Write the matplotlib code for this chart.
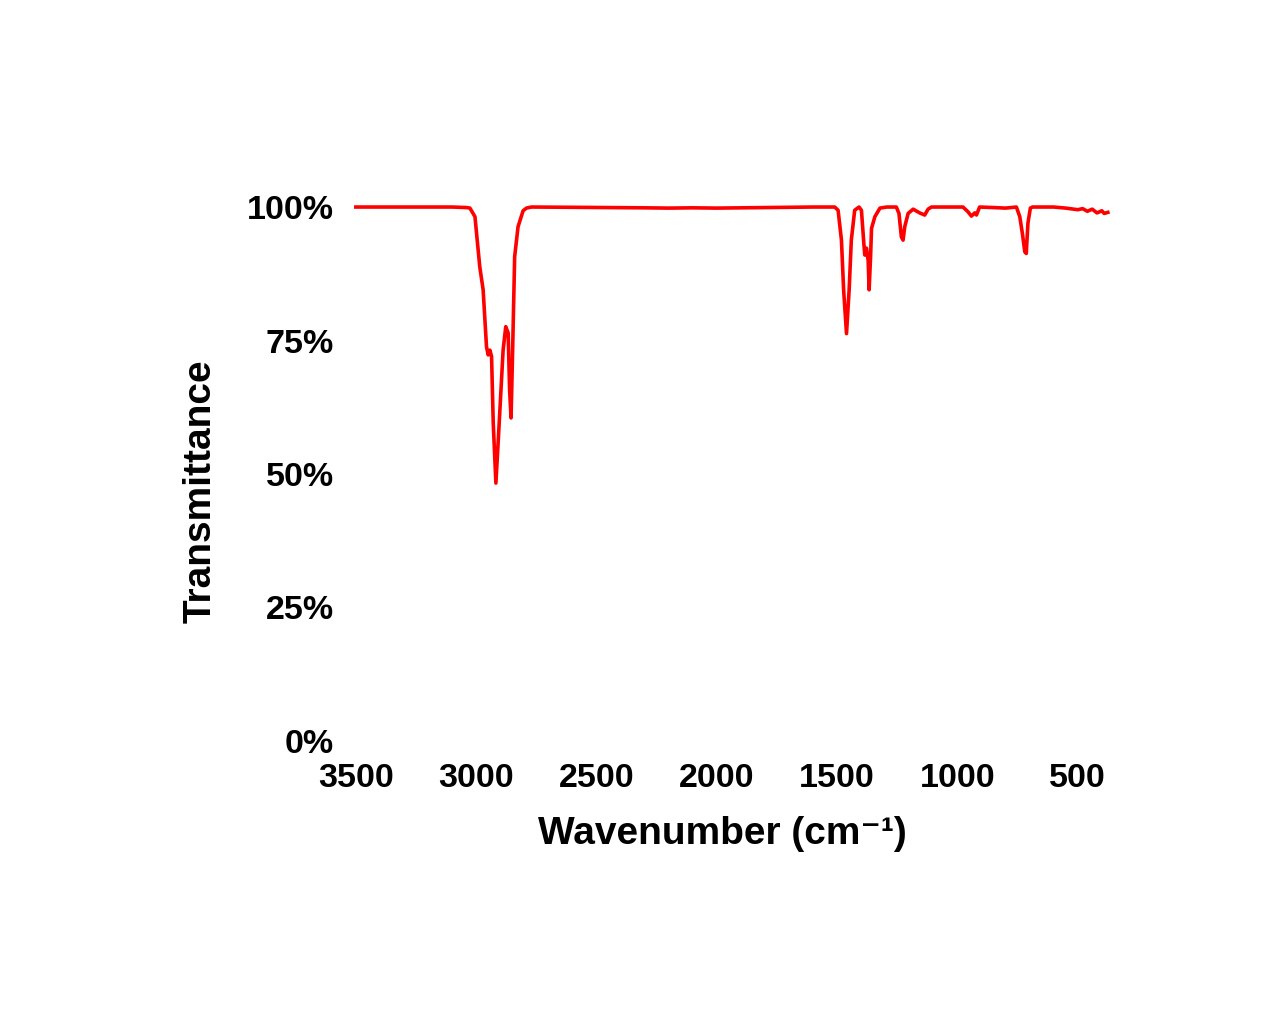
import matplotlib
matplotlib.use("Agg")
import matplotlib.pyplot as plt
from matplotlib.ticker import PercentFormatter

plt.rcParams['font.family'] = ['Liberation Sans', 'DejaVu Sans']

# IR spectrum: wavenumber (cm-1) and transmittance (%)
wavenumber = [3500, 3200, 3100, 3040, 3026, 3005, 2985, 2971, 2957, 2950, 2943, 2936,
              2929, 2918, 2908, 2888, 2877, 2867, 2861, 2855, 2849, 2840, 2826, 2805,
              2791, 2770, 2600, 2450, 2300, 2200, 2100, 2000, 1900, 1800, 1700, 1600,
              1530, 1510, 1496, 1482, 1473, 1461, 1450, 1441, 1427, 1409, 1399, 1389,
              1385, 1378, 1371, 1367, 1361, 1357, 1343, 1322, 1294, 1254, 1243, 1233,
              1226, 1219, 1205, 1184, 1157, 1136, 1122, 1108, 1050, 977, 956, 942,
              928, 921, 908, 850, 800, 755, 741, 730, 720, 714, 707, 697, 688, 600,
              550, 500, 480, 460, 440, 420, 400, 390, 375]
transmittance = [100, 100, 100, 99.9, 99.8, 98.2, 88.8, 84.5, 73.8, 72.3, 73.2, 72.0,
                 59.5, 48.3, 56.4, 73.2, 77.6, 76.4, 65.7, 60.5, 72.0, 90.7, 96.3, 99.3,
                 99.8, 100, 99.95, 99.9, 99.85, 99.8, 99.85, 99.8, 99.85, 99.9, 99.95, 100,
                 100, 100, 99.4, 93.8, 84.5, 76.3, 84.5, 93.8, 99.4, 100, 99.4, 93.2,
                 91.0, 92.3, 90.0, 84.5, 90.7, 96.0, 98.2, 99.8, 100, 100, 98.8, 94.4,
                 93.8, 96.3, 98.8, 99.6, 98.9, 98.5, 99.6, 100, 100, 100, 99.1, 98.3,
                 98.9, 98.5, 100, 99.9, 99.8, 100, 98.2, 95.0, 91.6, 91.3, 97.0, 99.8,
                 100, 100, 99.8, 99.5, 99.7, 99.2, 99.6, 98.9, 99.3, 98.8, 99.0]

y_ticks = [0, 25, 50, 75, 100]
x_ticks = [3500, 3000, 2500, 2000, 1500, 1000, 500]

fig = plt.figure(figsize=(12.8, 10.3), dpi=100)
ax = fig.add_axes([0.278, 0.2806, 0.5875, 0.5184])
ax.plot(wavenumber, transmittance, color='#ff0000', linewidth=2.6, clip_on=False,
        solid_joinstyle='round')

ax.set_xlim(3500, 375)
ax.set_ylim(0, 100)
ax.set_xticks(x_ticks)
ax.set_yticks(y_ticks)
ax.yaxis.set_major_formatter(PercentFormatter(100, decimals=0))
for s in ax.spines.values():
    s.set_visible(False)
ax.tick_params(axis='both', length=0, labelsize=24.5)
ax.tick_params(axis='y', pad=16)
ax.tick_params(axis='x', pad=16)
for lab in ax.get_xticklabels() + ax.get_yticklabels():
    lab.set_fontweight('bold')

ax.set_xlabel('Wavenumber (cm⁻¹)', fontsize=28, fontweight='bold')
ax.xaxis.set_label_coords(0.488, -0.14)
ax.set_ylabel('Transmittance', fontsize=28, fontweight='bold')
ax.yaxis.set_label_coords(-0.183, 0.467)

fig.savefig('out.png', dpi=100)
